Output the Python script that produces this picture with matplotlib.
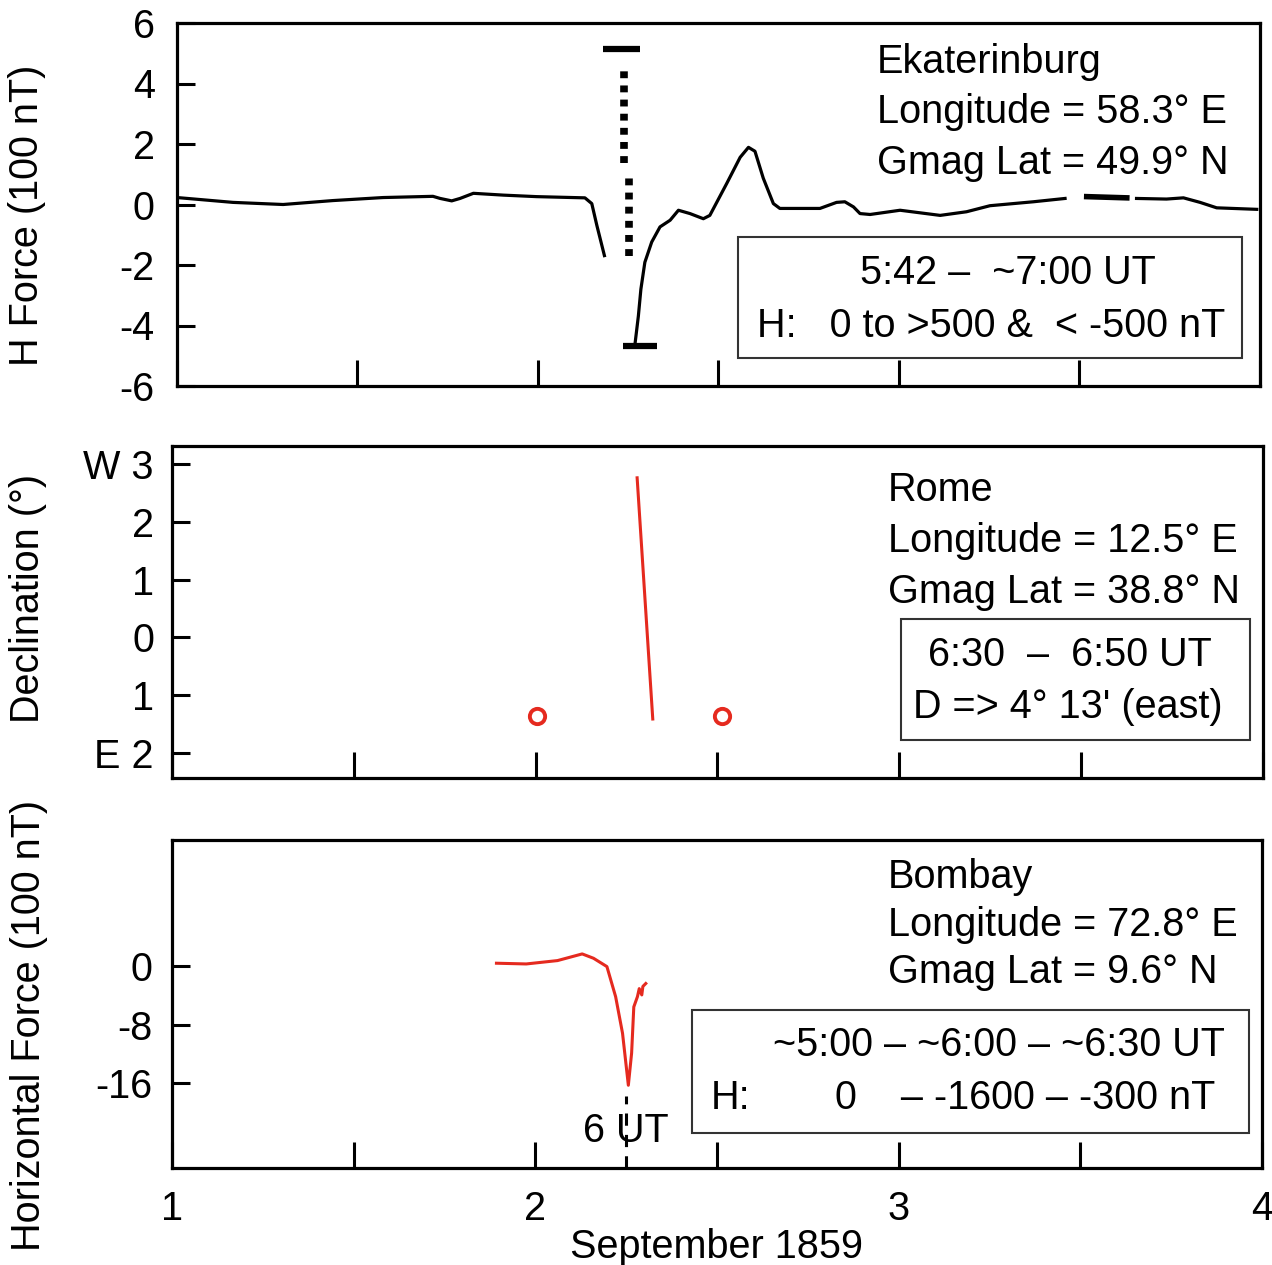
import numpy as np
import matplotlib.pyplot as plt
from matplotlib.patches import Rectangle

plt.rcParams['font.family'] = ['Liberation Sans', 'DejaVu Sans']

# Ekaterinburg H force (100 nT), gaps are np.nan
ek_day = [1.0, 1.155, 1.294, 1.432, 1.571, 1.709, 1.729, 1.761, 1.784, 1.821, 1.904, 1.996,
          2.130, 2.149, 2.163, 2.184, np.nan,
          2.269, 2.278, 2.285, 2.296, 2.315, 2.338, 2.366, 2.389, 2.421, 2.458, 2.476,
          2.523, 2.560, 2.583, 2.601, 2.624, 2.652, 2.670, 2.781, 2.827, 2.850, 2.874,
          2.892, 2.920, 3.003, 3.114, 3.187, 3.252, 3.372, 3.460, np.nan,
          3.658, 3.741, 3.788, 3.834, 3.880, 3.991]
ek_h = [0.23, 0.07, 0.0, 0.13, 0.23, 0.27, 0.2, 0.12, 0.2, 0.37, 0.31, 0.26,
        0.22, 0.03, -0.69, -1.69, np.nan,
        -4.58, -3.69, -2.8, -1.91, -1.24, -0.74, -0.52, -0.19, -0.3, -0.47, -0.36,
        0.7, 1.56, 1.89, 1.76, 0.87, 0.03, -0.13, -0.13, 0.07, 0.09, -0.08,
        -0.3, -0.33, -0.19, -0.36, -0.24, -0.04, 0.09, 0.2, np.nan,
        0.2, 0.18, 0.22, 0.07, -0.11, -0.16]
ek_dash_day = [3.520, 3.631]
ek_dash_h = [0.26, 0.22]

# off-scale markers
ek_bar_top = (5.13, 2.180, 2.283)
ek_bar_bot = (-4.67, 2.235, 2.330)
ek_dot1 = (2.238, 4.53, 1.37)
ek_dot2 = (2.252, 0.87, -1.70)

# Rome declination (deg)
rome_day = [2.279, 2.322]
rome_dec = [2.76, -1.41]
rome_pt_day = [2.004, 2.512]
rome_pt_dec = [-1.36, -1.36]

# Bombay horizontal force (100 nT)
bom_day = [1.893, 1.975, 2.061, 2.129, 2.160, 2.197, 2.221, 2.240, 2.256, 2.265,
           2.271, 2.281, 2.286, 2.293, 2.296, 2.304]
bom_h = [0.37, 0.27, 0.73, 1.64, 1.05, -0.09, -4.2, -9.2, -16.3, -11.9,
         -5.6, -4.2, -3.1, -3.96, -2.8, -2.4]

ut6_day = 2.25

xticks = [1, 1.5, 2, 2.5, 3, 3.5, 4]
xticklabels = ['1', '', '2', '', '3', '', '4']

fig = plt.figure(figsize=(12.72, 12.65), dpi=100)
W, H = 1272, 1265


def make_ax(l, r, t, b):
    return fig.add_axes([l / W, 1 - b / H, (r - l) / W, (b - t) / H])


ax1 = make_ax(177, 1260, 23, 386)
ax2 = make_ax(172, 1263, 446, 778)
ax3 = make_ax(172, 1262, 840, 1168)

FS = 28.5
red = '#e52a1f'

for ax in (ax1, ax2, ax3):
    ax.set_xlim(1, 4)
    for s in ax.spines.values():
        s.set_linewidth(2.3)
    ax.set_xticks(xticks)
    ax.tick_params(axis='x', direction='in', length=19, width=2.2, top=False,
                   labelsize=FS, pad=16)
    ax.tick_params(axis='y', direction='in', length=13, width=2.2, right=False,
                   labelsize=FS)
    ax.set_xticklabels([])

ax3.set_xticklabels(xticklabels)

# --- top: Ekaterinburg
ax1.plot(ek_day, ek_h, color='black', lw=2.3)
ax1.plot(ek_dash_day, ek_dash_h, color='black', lw=4)
ax1.hlines(ek_bar_top[0], ek_bar_top[1], ek_bar_top[2], color='black', lw=4.5)
ax1.hlines(ek_bar_bot[0], ek_bar_bot[1], ek_bar_bot[2], color='black', lw=4.5)
ax1.vlines(ek_dot1[0], ek_dot1[2], ek_dot1[1], color='black', lw=5.5,
           linestyles=(0, (0.9, 0.95)))
ax1.vlines(ek_dot2[0], ek_dot2[2], ek_dot2[1], color='black', lw=5.5,
           linestyles=(0, (0.9, 0.95)))
ax1.set_ylim(-6, 6)
ax1.set_yticks([-6, -4, -2, 0, 2, 4, 6])
ax1.set_yticklabels(['-6', '-4', '-2', '0', '2', '4', '6'])
ax1.tick_params(axis='y', pad=16)
ax1.set_ylabel('H Force (100 nT)', fontsize=FS, va='center')
ax1.yaxis.set_label_coords(-0.1385, 0.471)

for txt, yy in zip(['Ekaterinburg', 'Longitude = 58.3° E', 'Gmag Lat = 49.9° N'],
                   [0.893, 0.755, 0.614]):
    ax1.text(0.646, yy, txt, transform=ax1.transAxes, fontsize=FS, va='center', ha='left')
ax1.add_patch(Rectangle((0.518, 0.077), 0.465, 0.333, transform=ax1.transAxes,
                        fill=False, ec='#333333', lw=1.5))
ax1.text(0.767, 0.311, '5:42 –  ~7:00 UT', transform=ax1.transAxes, fontsize=FS,
         ha='center', va='center')
ax1.text(0.536, 0.165, 'H:   0 to >500 &  < -500 nT', transform=ax1.transAxes,
         fontsize=FS, ha='left', va='center')

# --- middle: Rome
ax2.plot(rome_day, rome_dec, color=red, lw=2.2)
ax2.plot(rome_pt_day, rome_pt_dec, ls='none', marker='o', ms=11, mfc='white',
         mec=red, mew=2.8)
ax2.set_ylim(-2.43, 3.31)
ax2.set_yticks([-2, -1, 0, 1, 2, 3])
ax2.set_yticklabels(['E 2', '1', '0', '1', '2', 'W 3'])
ax2.tick_params(axis='y', pad=13)
ax2.set_ylabel('Declination (°)', fontsize=FS, va='center')
ax2.yaxis.set_label_coords(-0.132, 0.542)

for txt, yy in zip(['Rome', 'Longitude = 12.5° E', 'Gmag Lat = 38.8° N'],
                   [0.867, 0.714, 0.560]):
    ax2.text(0.656, yy, txt, transform=ax2.transAxes, fontsize=FS, va='center', ha='left')
ax2.add_patch(Rectangle((0.668, 0.114), 0.320, 0.365, transform=ax2.transAxes,
                        fill=False, ec='#333333', lw=1.5))
ax2.text(0.823, 0.370, '6:30  –  6:50 UT', transform=ax2.transAxes, fontsize=FS,
         ha='center', va='center')
ax2.text(0.821, 0.214, "D => 4° 13' (east)", transform=ax2.transAxes, fontsize=FS,
         ha='center', va='center')

# --- bottom: Bombay
ax3.plot(bom_day, bom_h, color=red, lw=2.2)
ax3.set_ylim(-27.6, 17.2)
ax3.vlines(ut6_day, -27.6, -17.7, color='black', lw=2.2, linestyles=(0, (4, 3)))
ax3.text(ut6_day, -22.6, '6 UT', fontsize=FS, ha='center', va='center')
ax3.set_yticks([-16, -8, 0])
ax3.set_yticklabels(['-16', '-8', '0'])
ax3.tick_params(axis='y', pad=14)
ax3.set_ylabel('Horizontal Force (100 nT)', fontsize=FS, va='center')
ax3.yaxis.set_label_coords(-0.131, 0.436)
ax3.set_xlabel('September 1859', fontsize=FS, labelpad=0)

for txt, yy in zip(['Bombay', 'Longitude = 72.8° E', 'Gmag Lat = 9.6° N'],
                   [0.887, 0.741, 0.598]):
    ax3.text(0.657, yy, txt, transform=ax3.transAxes, fontsize=FS, va='center', ha='left')
ax3.add_patch(Rectangle((0.477, 0.107), 0.511, 0.375, transform=ax3.transAxes,
                        fill=False, ec='#333333', lw=1.5))
ax3.text(0.966, 0.375, '~5:00 – ~6:00 – ~6:30 UT', transform=ax3.transAxes,
         fontsize=FS, ha='right', va='center')
ax3.text(0.494, 0.213, 'H:', transform=ax3.transAxes, fontsize=FS, ha='left', va='center')
ax3.text(0.608, 0.213, '0    – -1600 – -300 nT', transform=ax3.transAxes,
         fontsize=FS, ha='left', va='center')

fig.savefig('out.png', dpi=100)
